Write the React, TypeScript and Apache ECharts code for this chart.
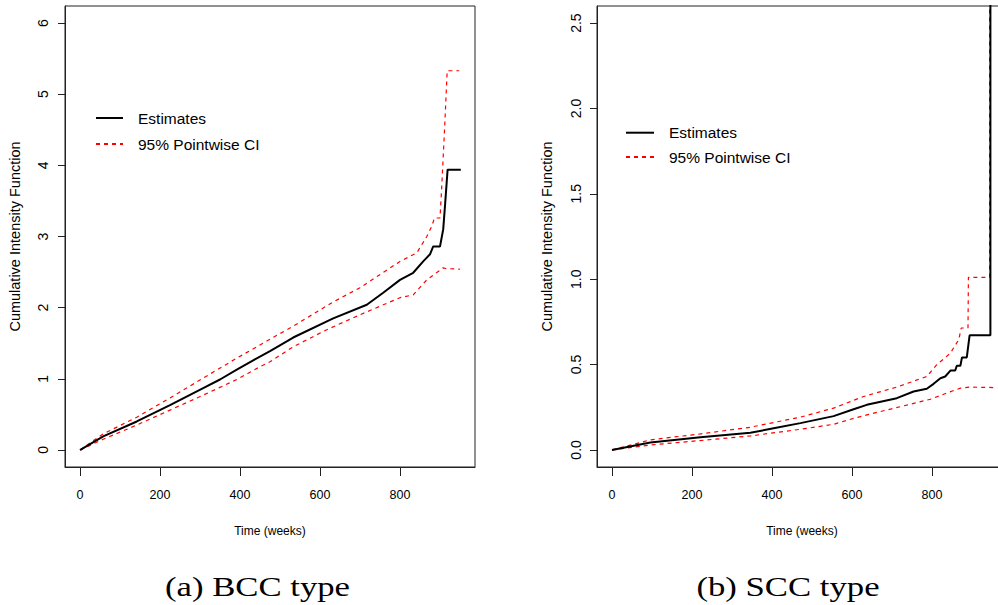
import React, { useEffect, useRef } from "react";
import * as echarts from "echarts";

// ---- data (time in weeks, cumulative intensity) ----
const xTicks = [0, 200, 400, 600, 800];
const bccYTicks = [0, 1, 2, 3, 4, 5, 6];
const sccYTicks = [0, 0.5, 1.0, 1.5, 2.0, 2.5];

const bccEstimate: [number, number][] = [
  [0, 0], [4, 0.01], [58, 0.19], [142, 0.40], [225, 0.63], [308, 0.87], [350, 0.99],
  [392, 1.13], [433, 1.26], [475, 1.39], [533, 1.58], [633, 1.85], [717, 2.04],
  [758, 2.21], [800, 2.39], [833, 2.49], [858, 2.65], [875, 2.75], [883, 2.86], [900, 2.86],
  [908, 3.10], [913, 3.47], [919, 3.94], [952, 3.94],
];
const bccUpper: [number, number][] = [
  [0, 0], [58, 0.225], [142, 0.46], [225, 0.73], [308, 1.01], [392, 1.29], [467, 1.53],
  [533, 1.74], [633, 2.08], [700, 2.28], [800, 2.65], [842, 2.77], [867, 3.0], [880, 3.15],
  [886, 3.26], [900, 3.26], [904, 3.66], [911, 4.46], [918, 5.33], [948, 5.33],
];
const bccLower: [number, number][] = [
  [0, 0], [58, 0.15], [142, 0.35], [225, 0.56], [308, 0.77], [392, 0.99], [450, 1.17],
  [475, 1.24], [533, 1.45], [617, 1.69], [700, 1.90], [800, 2.14], [833, 2.18], [867, 2.39],
  [908, 2.56], [914, 2.55], [950, 2.54],
];

const sccEstimate: [number, number][] = [
  [0, 0], [96, 0.043], [221, 0.074], [346, 0.10], [404, 0.127], [471, 0.157], [554, 0.198],
  [604, 0.238], [637, 0.264], [712, 0.303], [754, 0.342], [787, 0.358], [804, 0.387],
  [821, 0.42], [833, 0.43], [846, 0.465], [858, 0.465], [862, 0.493], [871, 0.493],
  [875, 0.542], [887, 0.542], [894, 0.671], [946, 0.671], [946, 3.2],
];
const sccUpper: [number, number][] = [
  [0, 0], [96, 0.059], [221, 0.094], [346, 0.133], [471, 0.192], [554, 0.245], [629, 0.313],
  [712, 0.368], [787, 0.43], [812, 0.499], [846, 0.567], [867, 0.646], [873, 0.714],
  [890, 0.714], [891, 1.011], [944, 1.011], [944, 3.2],
];
const sccLower: [number, number][] = [
  [0, 0], [96, 0.029], [221, 0.055], [346, 0.082], [471, 0.121], [554, 0.15], [604, 0.185],
  [637, 0.205], [729, 0.258], [796, 0.297], [837, 0.333], [871, 0.362], [896, 0.368],
  [960, 0.365],
];

const SANS = "'Liberation Sans', Arial, sans-serif";
const AX = "#222";

function makeX(gridIndex: number) {
  return {
    type: "value",
    gridIndex,
    min: -37.5,
    max: 987.5,
    name: "Time (weeks)",
    nameLocation: "middle",
    nameGap: 58,
    nameTextStyle: { fontFamily: SANS, fontSize: 12, color: "#000" },
    axisLine: { show: true, onZero: false, lineStyle: { color: AX, width: 1 } },
    axisTick: { show: true, length: 9, inside: false, customValues: xTicks, lineStyle: { color: AX, width: 1 } },
    axisLabel: {
      show: true, margin: 21, customValues: xTicks, fontFamily: SANS, fontSize: 12.5, color: "#000",
      formatter: (v: number) => String(v),
    },
    splitLine: { show: false },
  };
}

function makeY(gridIndex: number, min: number, max: number, ticks: number[], fmt: (v: number) => string, margin: number) {
  return {
    type: "value",
    gridIndex,
    min,
    max,
    name: "Cumulative Intensity Function",
    nameLocation: "middle",
    nameGap: 43,
    nameRotate: 90,
    nameTextStyle: { fontFamily: SANS, fontSize: 14.5, color: "#000" },
    axisLine: { show: true, onZero: false, lineStyle: { color: AX, width: 1 } },
    axisTick: { show: true, length: 7, inside: false, customValues: ticks, lineStyle: { color: AX, width: 1 } },
    axisLabel: {
      show: true, rotate: 90, margin, customValues: ticks, fontFamily: SANS, fontSize: 14, color: "#000",
      formatter: fmt,
    },
    splitLine: { show: false },
  };
}

function est(data: [number, number][], idx: number) {
  return {
    type: "line", name: "Estimates", xAxisIndex: idx, yAxisIndex: idx, data,
    symbol: "none", silent: true, z: 3, clip: true,
    lineStyle: { color: "#000", width: 2 }, itemStyle: { color: "#000" },
    emphasis: { disabled: true },
  };
}
function ci(data: [number, number][], idx: number) {
  return {
    type: "line", name: "95% Pointwise CI", xAxisIndex: idx, yAxisIndex: idx, data,
    symbol: "none", silent: true, z: 2, clip: true,
    lineStyle: { color: "#ff0000", width: 1.2, type: [4, 4] }, itemStyle: { color: "#ff0000" },
    emphasis: { disabled: true },
  };
}

function legend(left: number, top: number, gap: number, iconW: number, pad: number) {
  return {
    orient: "vertical", left, top, padding: 0, itemWidth: iconW, itemHeight: 14, itemGap: gap,
    selectedMode: false, data: ["Estimates", "95% Pointwise CI"],
    itemStyle: { opacity: 0, borderWidth: 0 },
    textStyle: { fontFamily: SANS, fontSize: 15.5, color: "#000", lineHeight: 14, padding: [0, 0, 0, pad] },
  };
}

export default function App() {
  const ref = useRef<HTMLDivElement>(null);
  useEffect(() => {
    if (!ref.current) return;
    const chart = echarts.init(ref.current, undefined, { renderer: "svg" });
    const gridBase = { show: true, borderColor: AX, borderWidth: 1, backgroundColor: "transparent", containLabel: false, outerBoundsMode: "none" };
    chart.setOption({
      animation: false,
      backgroundColor: "#fff",
      grid: [
        { ...gridBase, left: 65, top: 6, width: 410, height: 461 },
        { ...gridBase, left: 597, top: 6, width: 410, height: 461 },
      ],
      xAxis: [makeX(0), makeX(1)],
      yAxis: [
        makeY(0, -0.24, 6.24, bccYTicks, (v: number) => String(v), 15),
        makeY(1, -0.1, 2.6, sccYTicks, (v: number) => v.toFixed(1), 14),
      ],
      legend: [legend(95, 110, 10, 27, 10), legend(625, 124.7, 8.3, 28, 10)],
      series: [
        ci(bccUpper, 0), ci(bccLower, 0), est(bccEstimate, 0),
        ci(sccUpper, 1), ci(sccLower, 1), est(sccEstimate, 1),
      ],
      graphic: [
        {
          type: "text", x: 257.5, y: 587, scaleX: 1.24, silent: true,
          style: { text: "(a) BCC type", fontFamily: "'Liberation Serif', serif", fontSize: 28, fill: "#000", align: "center", verticalAlign: "middle" },
        },
        {
          type: "text", x: 788, y: 587, scaleX: 1.24, silent: true,
          style: { text: "(b) SCC type", fontFamily: "'Liberation Serif', serif", fontSize: 28, fill: "#000", align: "center", verticalAlign: "middle" },
        },
      ],
    });
    return () => chart.dispose();
  }, []);
  return (
    <div
      ref={ref}
      style={{ position: "fixed", left: 0, top: 0, width: 998, height: 605, background: "#fff" }}
    />
  );
}
